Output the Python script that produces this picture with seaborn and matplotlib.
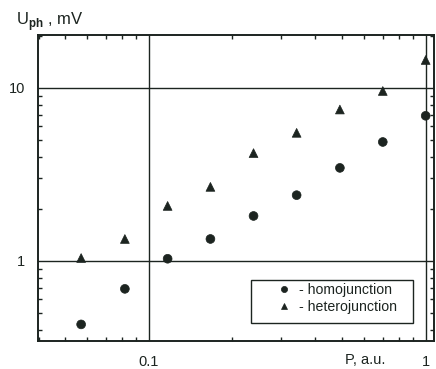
import matplotlib
matplotlib.use("Agg")
import matplotlib.pyplot as plt
import seaborn as sns
import pandas as pd
from matplotlib.patches import Rectangle
from matplotlib.ticker import LogLocator, NullFormatter, FixedLocator, FixedFormatter

# data
power = [0.057, 0.082, 0.117, 0.167, 0.239, 0.342, 0.49, 0.70, 1.0]
homo = [0.43, 0.69, 1.03, 1.34, 1.82, 2.40, 3.45, 4.87, 6.9]
hetero = [1.04, 1.34, 2.08, 2.68, 4.2, 5.5, 7.5, 9.6, 14.5]
series_names = ["- homojunction", "- heterojunction"]
x_ticks = [0.1, 1]
x_tick_labels = ["0.1", "1"]
y_ticks = [1, 10]
y_tick_labels = ["1", "10"]

df = pd.DataFrame({
    "P": power + power,
    "U": homo + hetero,
    "kind": [series_names[0]] * len(power) + [series_names[1]] * len(power),
})

sns.set_style("white")
plt.rcParams["font.family"] = ["Liberation Sans", "DejaVu Sans"]
plt.rcParams["mathtext.fontset"] = "custom"
plt.rcParams["mathtext.rm"] = "Liberation Sans"
plt.rcParams["mathtext.bf"] = "Liberation Sans:bold"

ink = "#1c2420"
fig = plt.figure(figsize=(4.36, 3.69), dpi=100)
ax = fig.add_axes([0.087, 0.076, 0.908, 0.829])

sns.scatterplot(data=df, x="P", y="U", style="kind", hue="kind",
                palette=[ink, ink], markers=["o", "^"], s=40,
                edgecolor=ink, linewidth=0.5, ax=ax, legend=True)

ax.set_xscale("log")
ax.set_yscale("log")
ax.set_xlim(0.0398, 1.07)
ax.set_ylim(0.345, 20.2)

ax.xaxis.set_major_locator(FixedLocator(x_ticks))
ax.xaxis.set_major_formatter(FixedFormatter(x_tick_labels))
ax.yaxis.set_major_locator(FixedLocator(y_ticks))
ax.yaxis.set_major_formatter(FixedFormatter(y_tick_labels))
ax.xaxis.set_minor_locator(LogLocator(base=10, subs=range(2, 10)))
ax.yaxis.set_minor_locator(LogLocator(base=10, subs=range(2, 10)))
ax.xaxis.set_minor_formatter(NullFormatter())
ax.yaxis.set_minor_formatter(NullFormatter())

ax.tick_params(which="major", length=0, labelsize=10.5, colors=ink)
ax.tick_params(axis="x", which="major", pad=10)
ax.tick_params(axis="y", which="major", pad=9)
ax.tick_params(which="minor", direction="in", length=3, width=1,
               color=ink, top=True, right=True, bottom=True, left=True)
ax.grid(True, which="major", color=ink, linewidth=1)
for s in ax.spines.values():
    s.set_color(ink)
    s.set_linewidth(1.4)

ax.set_xlabel("")
ax.set_ylabel("")
fig.text(0.792, 1 - 360 / 369, "P, a.u.", fontsize=10.5, color=ink,
         ha="left", va="center")
fig.text(0.036, 1 - 25 / 369, r"U$_{\mathbf{ph}}$ , mV", fontsize=12, color=ink,
         ha="left", va="baseline")

leg = ax.legend(loc="center left", bbox_to_anchor=(0.586, 0.139),
                frameon=False, fontsize=10.2,
                handletextpad=0.55, borderpad=0, labelspacing=0.2,
                handlelength=1.0, markerscale=0.7)
for t in leg.get_texts():
    t.set_color(ink)
ax.add_patch(Rectangle((0.538, 0.059), 0.947 - 0.538, 0.199 - 0.059,
                       transform=ax.transAxes, fill=True, facecolor="white",
                       edgecolor=ink, linewidth=1, zorder=4))
leg.set_zorder(5)

fig.savefig("out.png", dpi=100, facecolor="white")
